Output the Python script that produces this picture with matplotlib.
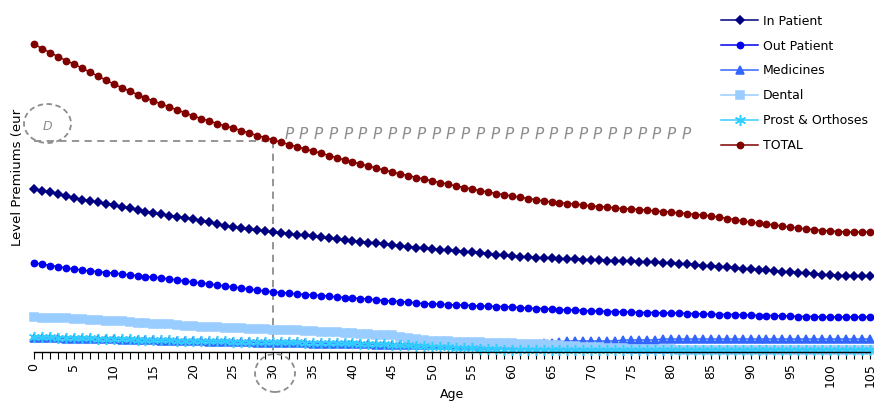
import matplotlib
matplotlib.use("Agg")
import matplotlib.pyplot as plt
from matplotlib.patches import Ellipse

# ---- data (level premiums by age) ----
ages = list(range(0, 106))

in_patient = [1620, 1605, 1590, 1570, 1550, 1530, 1515, 1500, 1490, 1475, 1460,
              1445, 1430, 1410, 1395, 1380, 1370, 1355, 1345, 1330, 1320,
              1305, 1290, 1270, 1255, 1240, 1230, 1220, 1210, 1200, 1190,
              1180, 1175, 1165, 1160, 1150, 1140, 1130, 1120, 1110, 1100,
              1095, 1085, 1080, 1070, 1060, 1050, 1045, 1035, 1030, 1020,
              1015, 1010, 1000, 995, 990, 985, 975, 965, 960, 950,
              945, 940, 935, 930, 930, 925, 920, 920, 915, 910,
              910, 905, 905, 900, 900, 895, 890, 890, 885, 880,
              875, 870, 865, 855, 850, 845, 840, 830, 825, 820,
              815, 810, 800, 795, 790, 785, 780, 770, 765, 760,
              755, 755, 750, 750, 750]

out_patient = [880, 870, 855, 845, 830, 820, 810, 800, 795, 785, 780,
               770, 760, 755, 745, 740, 730, 720, 710, 700, 690,
               680, 670, 660, 650, 640, 630, 620, 610, 600, 590,
               585, 580, 570, 565, 560, 555, 550, 540, 535, 530,
               525, 520, 510, 505, 500, 495, 490, 480, 475, 470,
               470, 465, 460, 460, 455, 450, 450, 445, 445, 440,
               435, 430, 425, 425, 420, 415, 410, 410, 405, 400,
               400, 395, 395, 390, 390, 385, 385, 385, 380, 380,
               380, 375, 375, 370, 370, 365, 365, 365, 360, 360,
               355, 355, 355, 350, 350, 345, 345, 345, 340, 340,
               340, 340, 340, 340, 340]

medicines = [130, 130, 130, 130, 125, 125, 125, 120, 120, 120, 120,
             115, 115, 110, 110, 110, 105, 105, 100, 100, 100,
             100, 95, 95, 95, 90, 90, 90, 85, 85, 85,
             80, 80, 80, 80, 75, 75, 75, 75, 70, 70,
             70, 70, 65, 65, 65, 65, 60, 60, 60, 60,
             60, 60, 60, 60, 60, 60, 65, 65, 65, 70,
             70, 75, 75, 80, 80, 90, 100, 100, 100, 100,
             100, 100, 100, 110, 110, 110, 110, 110, 120, 120,
             120, 120, 120, 120, 120, 120, 120, 120, 120, 120,
             120, 120, 120, 120, 120, 120, 120, 120, 120, 120,
             120, 120, 120, 120, 120]

dental = [340, 330, 330, 330, 330, 320, 320, 310, 310, 300, 300,
          300, 290, 280, 280, 270, 270, 270, 260, 250, 250,
          240, 240, 240, 230, 230, 230, 220, 220, 220, 210,
          210, 210, 210, 200, 200, 190, 190, 190, 180, 180,
          170, 170, 160, 160, 160, 140, 130, 120, 110, 100,
          100, 100, 95, 95, 90, 90, 85, 85, 80, 80,
          75, 75, 70, 70, 65, 60, 55, 50, 45, 40,
          40, 35, 30, 30, 25, 20, 20, 20, 20, 20,
          15, 15, 15, 15, 15, 15, 15, 15, 15, 15,
          15, 15, 15, 15, 15, 15, 15, 15, 15, 15,
          15, 15, 15, 15, 15]

prost_orthoses = [140, 140, 140, 135, 135, 130, 130, 130, 125, 125, 125,
                  120, 120, 115, 115, 110, 110, 110, 105, 105, 105,
                  100, 100, 100, 100, 95, 95, 95, 95, 95, 90,
                  90, 90, 90, 85, 85, 85, 85, 80, 80, 80,
                  75, 75, 70, 70, 65, 60, 60, 55, 50, 45,
                  40, 40, 35, 30, 30, 25, 20, 20, 15, 10,
                  10, 10, 10, 10, 10, 10, 10, 10, 10, 10,
                  10, 10, 10, 10, 10, 10, 10, 10, 10, 10,
                  10, 10, 10, 10, 10, 10, 10, 10, 10, 10,
                  10, 10, 10, 10, 10, 10, 10, 10, 10, 10,
                  10, 10, 10, 10, 10]

total = [3070, 3025, 2985, 2945, 2905, 2870, 2830, 2790, 2750, 2710, 2670,
         2635, 2600, 2565, 2530, 2500, 2470, 2440, 2410, 2380, 2350,
         2325, 2300, 2275, 2250, 2230, 2205, 2180, 2155, 2135, 2110,
         2090, 2065, 2045, 2020, 2000, 1980, 1955, 1935, 1910, 1890,
         1870, 1850, 1830, 1810, 1790, 1770, 1755, 1735, 1720, 1700,
         1685, 1670, 1650, 1635, 1620, 1605, 1590, 1575, 1565, 1550,
         1540, 1525, 1515, 1500, 1490, 1485, 1475, 1470, 1460, 1450,
         1445, 1440, 1430, 1425, 1420, 1415, 1410, 1400, 1395, 1390,
         1380, 1375, 1365, 1360, 1350, 1340, 1325, 1315, 1300, 1290,
         1280, 1270, 1260, 1250, 1240, 1230, 1220, 1215, 1205, 1200,
         1195, 1190, 1190, 1190, 1190]

ref_age = 30
ref_premium = 2100

# ---- figure ----
W, H = 874, 405
fig = plt.figure(figsize=(W / 100, H / 100), dpi=100)
ax = fig.add_axes([34 / W, 53 / H, 836 / W, 347 / H])

styles = [
    ("In Patient", in_patient, "#000080", "D", 4.4),
    ("Out Patient", out_patient, "#0000EE", "o", 4.5),
    ("Medicines", medicines, "#3366FF", "^", 5.2),
    ("Dental", dental, "#99CCFF", "s", 6),
    ("Prost & Orthoses", prost_orthoses, "#33CCFF", (6, 2, 0), 8),
    ("TOTAL", total, "#800000", "o", 4.5),
]
for label, vals, col, mk, ms in styles:
    ax.plot(ages, vals, color=col, marker=mk, ms=ms, lw=1.1, mec=col, mfc=col,
            mew=1.1, clip_on=False, label=label)

ax.set_xlim(0, 105)
ax.set_ylim(-10, 3460)
ax.set_yticks([])
for s in ["left", "top", "right"]:
    ax.spines[s].set_visible(False)
ax.spines["bottom"].set_linewidth(1.0)
ax.set_xticks(range(0, 106, 5))
ax.set_xticks(ages, minor=True)
ax.tick_params(axis="x", which="both", length=5, width=0.8, direction="out",
               labelsize=9, labelrotation=90, pad=3)
ax.set_xlabel("Age", fontsize=9, labelpad=1)

# reference lines at age 30
gray = "#8c8c8c"
ax.plot([0, ref_age + 0.5], [ref_premium, ref_premium], color=gray, lw=1.3,
        ls=(0, (4, 3)), clip_on=False, zorder=1)
ax.plot([ref_age, ref_age], [ref_premium, -10], color=gray, lw=1.3,
        ls=(0, (4, 3)), clip_on=False, zorder=1)

# dashed circles
fig.patches.append(Ellipse((47.5 / W, 1 - 123.5 / H), 47 / W, 39 / H,
                           transform=fig.transFigure, fill=False, ec=gray,
                           lw=1.3, ls=(0, (3, 2))))
fig.text(47 / W, 1 - 127 / H, "D", color=gray, fontsize=9, style="italic",
         ha="center", va="center")
fig.patches.append(Ellipse((275 / W, 1 - 373 / H), 40 / W, 38 / H,
                           transform=fig.transFigure, fill=False, ec=gray,
                           lw=1.3, ls=(0, (3, 2))))

for i in range(28):
    fig.text((289 + i * 14.7) / W, 1 - 135 / H, "P", color=gray, fontsize=11,
             style="italic", ha="center", va="center")

fig.text(18 / W, 1 - 177 / H, "Level Premiums (eur", rotation=90, fontsize=9.5,
         ha="center", va="center")

fig.legend(loc="upper left", bbox_to_anchor=(712 / W, 1 - 6 / H), frameon=False,
           fontsize=9, handlelength=3.0, handletextpad=0.4, labelspacing=0.95,
           borderpad=0.2)

fig.savefig("out.png", dpi=100)
